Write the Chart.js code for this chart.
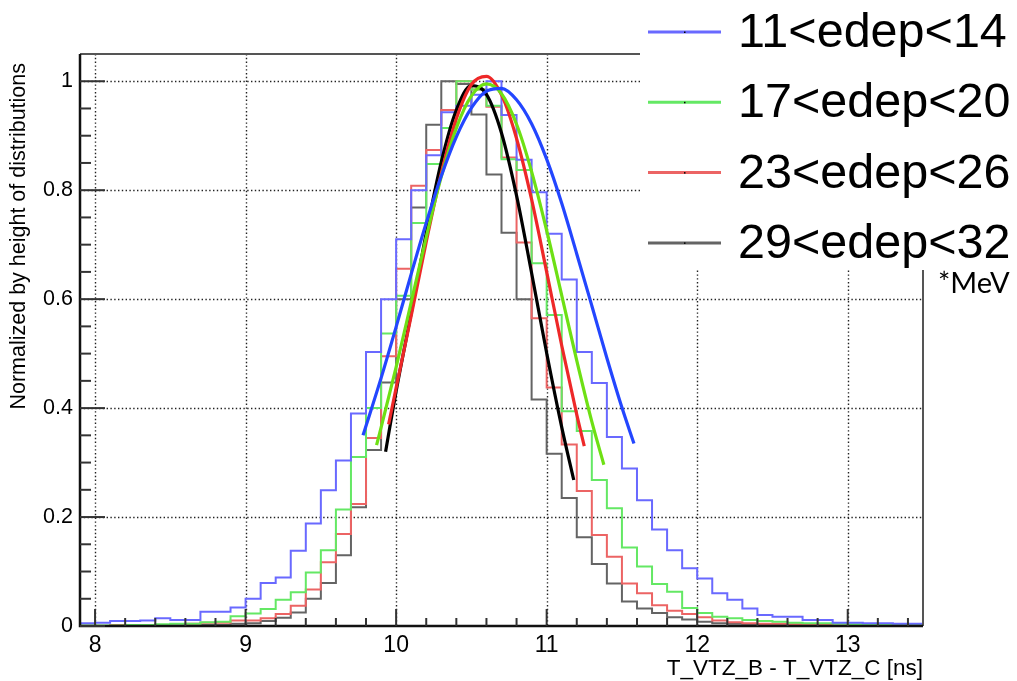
<!DOCTYPE html>
<html>
<head>
<meta charset="utf-8">
<script src="https://cdn.jsdelivr.net/npm/chart.js@4.4.1/dist/chart.umd.min.js"></script>
<style>
  html, body { margin: 0; padding: 0; background: #fff; }
  canvas { display: block; }
</style>
</head>
<body>
<canvas id="myChart" width="1017" height="681"></canvas>
<script>
// histogram binning (low edge of first bin, bin width)
const binStart = 7.9;
const binWidth = 0.1;

const seriesNames = ['11<edep<14', '17<edep<20', '23<edep<26', '29<edep<32'];

// normalized bin contents, 56 bins from 7.9 to 13.5
const blueHist = [
  0.005, 0.005, 0.006, 0.009, 0.009, 0.010, 0.014, 0.011, 0.011, 0.026,
  0.026, 0.034, 0.050, 0.079, 0.089, 0.138, 0.188, 0.249, 0.304, 0.390,
  0.503, 0.600, 0.710, 0.800, 0.864, 0.943, 0.955, 0.975, 1.000, 0.938,
  0.856, 0.796, 0.720, 0.636, 0.503, 0.446, 0.347, 0.289, 0.231, 0.177,
  0.139, 0.106, 0.087, 0.060, 0.048, 0.032, 0.020, 0.017, 0.017, 0.011,
  0.011, 0.006, 0.006, 0.005, 0.005, 0.004
];
const greenHist = [
  0.000, 0.001, 0.001, 0.001, 0.002, 0.002, 0.003, 0.004, 0.004, 0.007,
  0.008, 0.018, 0.023, 0.031, 0.048, 0.062, 0.098, 0.139, 0.214, 0.310,
  0.400, 0.537, 0.606, 0.740, 0.848, 0.914, 1.000, 0.985, 0.955, 0.857,
  0.837, 0.666, 0.571, 0.394, 0.358, 0.268, 0.216, 0.144, 0.109, 0.077,
  0.063, 0.033, 0.024, 0.017, 0.014, 0.011, 0.009, 0.008, 0.006, 0.005,
  0.005, 0.004, 0.003, 0.002, 0.002, 0.002
];
const redHist = [
  0.000, 0.000, 0.000, 0.002, 0.002, 0.002, 0.002, 0.000, 0.004, 0.006,
  0.006, 0.010, 0.010, 0.014, 0.022, 0.037, 0.067, 0.117, 0.169, 0.224,
  0.345, 0.495, 0.656, 0.808, 0.874, 0.947, 1.000, 0.985, 0.953, 0.860,
  0.704, 0.565, 0.438, 0.333, 0.248, 0.167, 0.127, 0.078, 0.060, 0.038,
  0.028, 0.022, 0.016, 0.010, 0.007, 0.005, 0.004, 0.004, 0.003, 0.003,
  0.002, 0.001, 0.001, 0.000, 0.000, 0.000
];
const blackHist = [
  0.000, 0.000, 0.000, 0.001, 0.001, 0.001, 0.001, 0.001, 0.002, 0.002,
  0.002, 0.004, 0.005, 0.009, 0.015, 0.025, 0.050, 0.079, 0.130, 0.218,
  0.323, 0.447, 0.600, 0.768, 0.920, 1.000, 0.995, 0.939, 0.829, 0.722,
  0.600, 0.416, 0.316, 0.235, 0.163, 0.114, 0.078, 0.045, 0.032, 0.024,
  0.016, 0.012, 0.008, 0.005, 0.004, 0.003, 0.002, 0.002, 0.001, 0.001,
  0.000, 0.000, 0.000, 0.000, 0.000, 0.000
];

// gaussian fit curves
const blueFitX  = [9.78, 9.9, 10.0, 10.1, 10.2, 10.3, 10.4, 10.5, 10.6, 10.7, 10.8, 10.9, 11.0, 11.1, 11.2, 11.3, 11.4, 11.5, 11.58];
const blueFitY  = [0.350, 0.455, 0.549, 0.646, 0.740, 0.826, 0.898, 0.951, 0.982, 0.987, 0.966, 0.922, 0.857, 0.776, 0.683, 0.588, 0.492, 0.401, 0.335];
const greenFitX = [9.87, 9.9, 10.0, 10.1, 10.2, 10.3, 10.4, 10.5, 10.6, 10.7, 10.8, 10.9, 11.0, 11.1, 11.2, 11.3, 11.38];
const greenFitY = [0.332, 0.364, 0.475, 0.594, 0.714, 0.825, 0.914, 0.973, 0.995, 0.977, 0.921, 0.834, 0.726, 0.607, 0.487, 0.375, 0.296];
const redFitX   = [9.95, 10.0, 10.1, 10.2, 10.3, 10.4, 10.5, 10.6, 10.7, 10.8, 10.9, 11.0, 11.1, 11.2, 11.25];
const redFitY   = [0.370, 0.437, 0.569, 0.705, 0.831, 0.931, 0.994, 1.009, 0.975, 0.895, 0.783, 0.650, 0.515, 0.388, 0.330];
const blackFitX = [9.93, 10.0, 10.1, 10.2, 10.3, 10.4, 10.5, 10.6, 10.7, 10.8, 10.9, 11.0, 11.1, 11.18];
const blackFitY = [0.320, 0.431, 0.574, 0.721, 0.852, 0.947, 0.992, 0.976, 0.905, 0.790, 0.648, 0.501, 0.365, 0.268];

// axis ticks
const xTicks = [8, 9, 10, 11, 12, 13];
const yTicks = [0, 0.2, 0.4, 0.6, 0.8, 1];
const yTickLabels = ['0', '0.2', '0.4', '0.6', '0.8', '1'];

const histColors = ['rgb(105,105,255)', 'rgb(100,232,100)', 'rgb(236,100,100)', 'rgb(100,100,100)'];
const fitColors  = ['rgb(35,70,255)', 'rgb(110,224,20)', 'rgb(238,40,40)', 'rgb(0,0,0)'];

const fontFam = "'Liberation Sans', Arial, sans-serif";

function histPoints(values) {
    const pts = values.map((v, i) => ({ x: binStart + i * binWidth, y: v }));
    pts.push({ x: binStart + values.length * binWidth, y: values[values.length - 1] });
    return pts;
}
function fitPoints(xs, ys) {
    return xs.map((x, i) => ({ x: x, y: ys[i] }));
}

const hists = [blueHist, greenHist, redHist, blackHist];
const fits = [[blueFitX, blueFitY], [greenFitX, greenFitY], [redFitX, redFitY], [blackFitX, blackFitY]];

const datasets = [];
fits.forEach(function (f, i) {
    datasets.push({
        label: seriesNames[i] + ' fit',
        data: fitPoints(f[0], f[1]),
        borderColor: fitColors[i],
        borderWidth: 3.2,
        pointRadius: 0,
        fill: false,
        cubicInterpolationMode: 'monotone',
        order: 0
    });
});
hists.forEach(function (h, i) {
    datasets.push({
        label: seriesNames[i],
        data: histPoints(h),
        borderColor: histColors[i],
        borderWidth: 2,
        pointRadius: 0,
        fill: false,
        stepped: 'after',
        order: 1
    });
});

// ROOT-like frame: dotted grid, inner ticks, legend box and titles
const rootFrame = {
    id: 'rootFrame',
    beforeDatasetsDraw(chart) {
        const c = chart.ctx, a = chart.chartArea;
        const sx = chart.scales.x, sy = chart.scales.y;
        c.save();
        c.strokeStyle = '#222';
        c.lineWidth = 1.4;
        c.setLineDash([1.4, 2.4]);
        xTicks.forEach(function (v) {
            const px = Math.round(sx.getPixelForValue(v)) + 0.5;
            c.beginPath(); c.moveTo(px, a.top); c.lineTo(px, a.bottom); c.stroke();
        });
        yTicks.forEach(function (v) {
            if (v === 0) return;
            const py = Math.round(sy.getPixelForValue(v)) + 0.5;
            c.beginPath(); c.moveTo(a.left, py); c.lineTo(a.right, py); c.stroke();
        });
        c.restore();
    },
    afterDatasetsDraw(chart) {
        const c = chart.ctx, a = chart.chartArea;
        const sx = chart.scales.x, sy = chart.scales.y;
        c.save();
        // frame
        c.setLineDash([]);
        c.strokeStyle = '#555';
        c.lineWidth = 2;
        c.beginPath(); c.moveTo(a.left, a.top); c.lineTo(a.right, a.top); c.lineTo(a.right, a.bottom); c.stroke();
        c.strokeStyle = '#111';
        c.lineWidth = 2.5;
        c.beginPath(); c.moveTo(a.left, a.top); c.lineTo(a.left, a.bottom); c.lineTo(a.right, a.bottom); c.stroke();

        // inner ticks
        c.strokeStyle = '#333';
        c.lineWidth = 2;
        for (let k = 0; k <= 28; k++) {
            const v = 8 + k * 0.2;
            if (v > 13.5) break;
            const major = k % 5 === 0;
            const px = sx.getPixelForValue(v);
            c.beginPath(); c.moveTo(px, a.bottom); c.lineTo(px, a.bottom - (major ? 17 : 8)); c.stroke();
        }
        for (let k = 0; k <= 20; k++) {
            const v = k * 0.05;
            const major = k % 4 === 0;
            const py = sy.getPixelForValue(v);
            c.beginPath(); c.moveTo(a.left, py); c.lineTo(a.left + (major ? 25 : 11), py); c.stroke();
        }

        // legend box (covers frame corner)
        c.fillStyle = '#fff';
        c.fillRect(640, 0, 1017 - 640, 270);
        c.font = '48.5px ' + fontFam;
        c.textBaseline = 'alphabetic';
        c.textAlign = 'left';
        seriesNames.forEach(function (name, i) {
            const base = 47 + i * 70.3;
            const ly = base - 15;
            c.strokeStyle = histColors[i];
            c.lineWidth = 3;
            c.beginPath(); c.moveTo(648, ly); c.lineTo(721, ly); c.stroke();
            c.fillStyle = '#000';
            c.fillRect(684, ly - 0.5, 1.5, 1.5);
            c.fillText(name, 738, base);
        });
        c.font = "29px Lato, 'Open Sans', sans-serif";
        c.fillText('*MeV', 938, 293);

        // axis titles
        c.font = '22.5px ' + fontFam;
        c.fillStyle = '#000';
        c.textAlign = 'right';
        c.fillText('T_VTZ_B - T_VTZ_C [ns]', a.right, 675);
        c.font = '21.5px ' + fontFam;
        c.translate(19, 63);
        c.rotate(-Math.PI / 2);
        c.textBaseline = 'middle';
        c.fillText('Normalized by height of distributions', 0, 0);
        c.restore();
    }
};

const ctx = document.getElementById('myChart').getContext('2d');
new Chart(ctx, {
    type: 'line',
    data: { datasets: datasets },
    options: {
        responsive: false,
        animation: false,
        devicePixelRatio: 1,
        layout: { padding: { top: 54, right: 94, left: 0, bottom: 0 } },
        plugins: {
            legend: { display: false },
            tooltip: { enabled: false }
        },
        scales: {
            x: {
                type: 'linear',
                min: 7.9,
                max: 13.5,
                grid: { display: false, drawTicks: false },
                border: { display: false },
                afterBuildTicks: function (s) { s.ticks = xTicks.map(v => ({ value: v })); },
                afterFit: function (s) { s.height = 55; },
                ticks: {
                    autoSkip: false,
                    maxRotation: 0,
                    padding: 6,
                    color: '#000',
                    font: { family: fontFam, size: 23 },
                    callback: function (v) { return String(v); }
                }
            },
            y: {
                type: 'linear',
                min: 0,
                max: 1.05,
                grid: { display: false, drawTicks: false },
                border: { display: false },
                afterBuildTicks: function (s) { s.ticks = yTicks.map(v => ({ value: v })); },
                afterFit: function (s) { s.width = 80; },
                ticks: {
                    autoSkip: false,
                    padding: 7,
                    color: '#000',
                    font: { family: fontFam, size: 21.5 },
                    callback: function (v, i) { return yTickLabels[i]; }
                }
            }
        }
    },
    plugins: [rootFrame]
});
</script>
</body>
</html>
